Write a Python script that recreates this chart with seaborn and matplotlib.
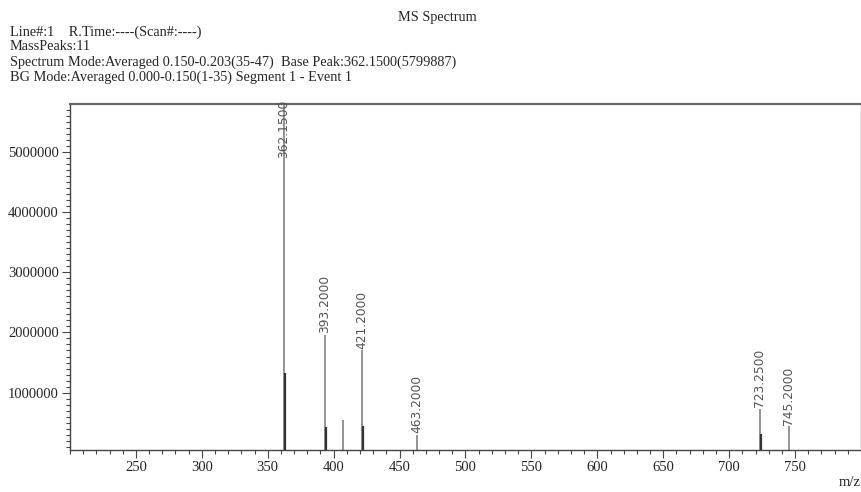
import matplotlib
matplotlib.use("Agg")
import matplotlib.pyplot as plt
import seaborn as sns
from matplotlib.ticker import MultipleLocator, FixedLocator

# peak list
mz = [362.15, 363.15, 393.20, 394.20, 407.10, 421.20, 422.20, 463.20, 723.25, 724.25, 745.20]
intensity = [5799887, 1330000, 1960000, 420000, 540000, 1710000, 450000, 300000, 730000, 310000, 440000]
# which sticks are drawn darker (isotope sticks)
dark = [False, True, False, True, False, False, True, False, False, True, False]
labels = ["362.1500", "", "393.2000", "", "", "421.2000", "", "463.2000", "723.2500", "", "745.2000"]

ytick_vals = [1000000, 2000000, 3000000, 4000000, 5000000]
xtick_vals = [250, 300, 350, 400, 450, 500, 550, 600, 650, 700, 750]

header = ["Line#:1    R.Time:----(Scan#:----)",
          "MassPeaks:11",
          "Spectrum Mode:Averaged 0.150-0.203(35-47)  Base Peak:362.1500(5799887)",
          "BG Mode:Averaged 0.000-0.150(1-35) Segment 1 - Event 1"]

sns.set_style("ticks")
plt.rcParams['font.family'] = ['Liberation Serif', 'DejaVu Serif']

fig = plt.figure(figsize=(8.62, 4.92), dpi=100)
ax = fig.add_axes([70/862, 1-450/492, 791/862, 346/492])

# sticks
for x, h, d in zip(mz, intensity, dark):
    ax.vlines(x, 0, h, color="#333333" if d else "#777777", lw=1.6 if d else 1.1)

ax.set_xlim(200, 800)
ax.set_ylim(45000, max(intensity))

# peak labels
for x, h, lab in zip(mz, intensity, labels):
    if not lab:
        continue
    if h == max(intensity):
        ax.annotate(lab, (x, h), xytext=(0, 3), textcoords="offset points",
                    rotation=90, ha="center", va="top", fontsize=8.8,
                    family="DejaVu Sans", color="#555555", annotation_clip=False)
    else:
        ax.annotate(lab, (x, h), xytext=(0, 1), textcoords="offset points",
                    rotation=90, ha="center", va="bottom", fontsize=8.8,
                    family="DejaVu Sans", color="#555555")

ax.xaxis.set_major_locator(FixedLocator(xtick_vals))
ax.xaxis.set_minor_locator(MultipleLocator(10))
ax.yaxis.set_major_locator(FixedLocator(ytick_vals))
ax.yaxis.set_minor_locator(MultipleLocator(100000))
ax.set_yticklabels([str(v) for v in ytick_vals])
ax.set_xticklabels([str(v) for v in xtick_vals])
ax.tick_params(which="major", length=6, width=0.8, color="#444444", labelsize=10.5, pad=2)
ax.tick_params(which="minor", length=3, width=0.8, color="#444444")

for side in ["left", "bottom"]:
    ax.spines[side].set_color("#444444")
    ax.spines[side].set_linewidth(1.0)
ax.spines["top"].set_color("#666666")
ax.spines["top"].set_linewidth(1.6)
ax.spines["right"].set_color("#999999")
ax.spines["right"].set_linewidth(1.0)

fig.text(850/862, 1-482/492, "m/z", ha="center", va="center", fontsize=10.5)
fig.text(437/862, 1-17/492, "MS Spectrum", ha="center", va="center", fontsize=10.3)
for i, line in enumerate(header):
    fig.text(10/862, 1-(32 + 15*i)/492, line, ha="left", va="center", fontsize=10.3)

fig.savefig("out.png", dpi=100)
